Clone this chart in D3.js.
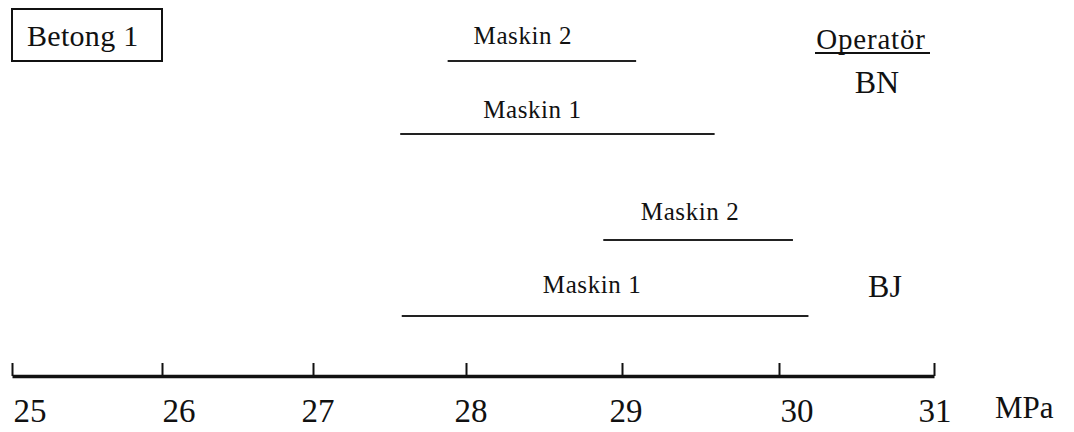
<!DOCTYPE html>
<html>
<head>
<meta charset="utf-8">
<script src="https://cdn.jsdelivr.net/npm/d3@7"></script>
<style>
	body { margin: 0; background: #fff; }
	svg text { font-family: "Liberation Serif", "DejaVu Serif", serif; }
</style>
</head>
<body>
<svg width="1074" height="432"></svg>
<script>
// interval data, MPa
var machines = ["Maskin 2", "Maskin 1", "Maskin 2", "Maskin 1"];
var operators = ["BN", "BN", "BJ", "BJ"];
var lowValues = [27.88, 27.57, 28.88, 27.58];
var highValues = [29.09, 29.59, 30.09, 30.19];
var tickValues = [25, 26, 27, 28, 29, 30, 31];

var svg = d3.select("svg")
	.attr("fill", "#111");

// the hand-drawn axis is not quite even, so map each tick to where it sits
var tickPx = [12, 162, 313, 466, 622, 779, 934];
var x = d3.scaleLinear().domain(tickValues).range(tickPx);

var rowYs = [61, 134, 240, 316]; // rows are not evenly spaced in the drawing
var labelLift = [17, 16, 20, 23];
var labelShift = [-19, -25, -8, -13];

var rows = machines.map(function(m, i) {
	return {machine: m, operator: operators[i], lo: lowValues[i], hi: highValues[i],
		y: rowYs[i], lift: labelLift[i], shift: labelShift[i]};
});

// title box
svg.append("rect")
	.attr("x", 12).attr("y", 9)
	.attr("width", 150).attr("height", 52)
	.attr("fill", "none")
	.attr("stroke", "#111")
	.attr("stroke-width", 2);
svg.append("text")
	.attr("x", 27).attr("y", 46)
	.attr("font-size", 30)
	.attr("letter-spacing", 0.3)
	.text("Betong 1");

// intervals
svg.selectAll(".interval")
	.data(rows)
	.enter()
	.append("line")
	.attr("class", "interval")
	.attr("x1", function(d) { return x(d.lo); })
	.attr("x2", function(d) { return x(d.hi); })
	.attr("y1", function(d) { return d.y; })
	.attr("y2", function(d) { return d.y; })
	.attr("stroke", "#222")
	.attr("stroke-width", 2);

svg.selectAll(".interval_text")
	.data(rows)
	.enter()
	.append("text")
	.attr("class", "interval_text")
	.attr("x", function(d) { return (x(d.lo) + x(d.hi)) / 2 + d.shift; })
	.attr("y", function(d) { return d.y - d.lift; })
	.attr("text-anchor", "middle")
	.attr("font-size", 25)
	.attr("letter-spacing", 0.6)
	.text(function(d) { return d.machine; });

// operator column
svg.append("text")
	.attr("x", 871).attr("y", 49)
	.attr("text-anchor", "middle")
	.attr("font-size", 29)
	.attr("letter-spacing", 0.8)
	.text("Operatör");
svg.append("line")
	.attr("x1", 815).attr("x2", 930)
	.attr("y1", 53).attr("y2", 53)
	.attr("stroke", "#111").attr("stroke-width", 1.8);

var opRows = [{name: "BN", x: 877, y: 93}, {name: "BJ", x: 885, y: 297}];
svg.selectAll(".operator")
	.data(opRows)
	.enter()
	.append("text")
	.attr("class", "operator")
	.attr("x", function(d) { return d.x; })
	.attr("y", function(d) { return d.y; })
	.attr("text-anchor", "middle")
	.attr("font-size", 32)
	.text(function(d) { return d.name; });

// axis
var axis = d3.axisTop(x)
	.tickValues(tickValues)
	.tickSize(13)
	.tickSizeOuter(0)
	.tickFormat("");
var g = svg.append("g")
	.attr("transform", "translate(0,376)")
	.call(axis);
g.select(".domain").attr("stroke", "#111").attr("stroke-width", 3.5);
g.selectAll(".tick line").attr("stroke", "#111").attr("stroke-width", 2);

var tickLabelShift = [18, 17, 5, 5, 4, 18, 1];
svg.selectAll(".tick_label")
	.data(tickValues)
	.enter()
	.append("text")
	.attr("class", "tick_label")
	.attr("x", function(d, i) { return x(d) + tickLabelShift[i]; })
	.attr("y", 422)
	.attr("text-anchor", "middle")
	.attr("font-size", 33)
	.text(function(d) { return d; });

svg.append("text")
	.attr("x", 995).attr("y", 418)
	.attr("font-size", 31)
	.text("MPa");
</script>
</body>
</html>
